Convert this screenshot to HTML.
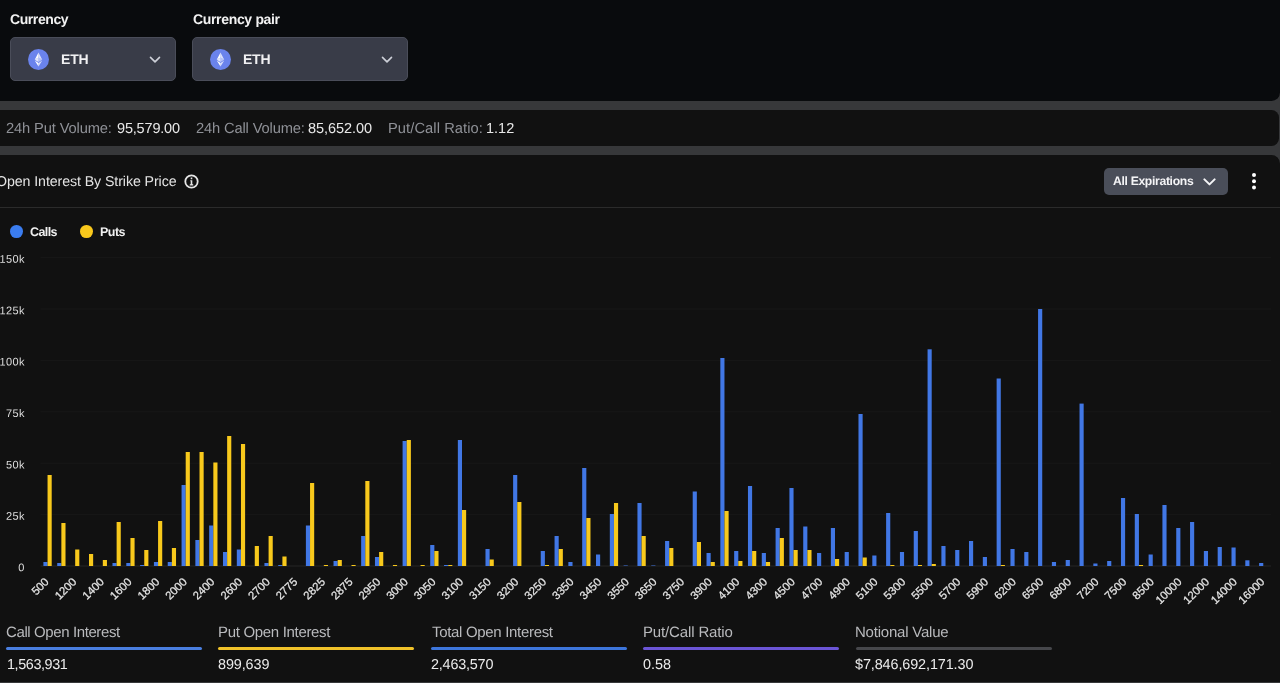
<!DOCTYPE html>
<html lang="en"><head><meta charset="utf-8"><title>Open Interest By Strike Price</title>
<style>
*{box-sizing:border-box;margin:0;padding:0}
html,body{width:1280px;height:683px;overflow:hidden;background:#37383a;font-family:"Liberation Sans",Arial,sans-serif;color:#e6e6e6}
.abs{position:absolute}
#root{position:absolute;left:0;top:0;width:1280px;height:683px;overflow:hidden;will-change:transform}
#top{position:absolute;left:0;top:0;width:1280px;height:101px;background:#090b0d;border-bottom-right-radius:8.5px}
#stats{position:absolute;left:0;top:110px;width:1279.3px;height:36.2px;background:#111111;border-radius:0 7.5px 7.5px 0}
#panel{position:absolute;left:0;top:155px;width:1280px;height:526.6px;background:#111111;border-top-right-radius:8.5px}
.tx{position:absolute;line-height:18px;white-space:nowrap;transform:rotate(0.03deg);transform-origin:0 50%}
.dd{position:absolute;top:37px;height:44px;background:#393c48;border:1px solid #4a4d59;border-radius:5px}
.dd .eth{position:absolute;left:16.9px;top:10.6px}
.dd .chev{position:absolute;right:14.1px;top:18px}
.title{position:absolute;left:-3.9px;top:172.38px;font-size:14.2px;line-height:18px;color:#e4e4e4;white-space:nowrap;letter-spacing:-0.085px;transform:rotate(0.03deg);transform-origin:0 50%}
.btnbox{position:absolute;left:1104px;top:167.7px;width:124px;height:27px;background:#4a4e59;border-radius:5px}
.dot{position:absolute;top:225.35px;width:12.8px;height:12.8px;border-radius:50%}
.chart{position:absolute;left:0;top:0}
.yl{font-size:11px;letter-spacing:.4px;fill:#dedede;font-family:"Liberation Sans",Arial,sans-serif}
.xl{font-size:11.3px;fill:#e4e4e4;stroke:#e4e4e4;stroke-width:.25px;font-family:"Liberation Sans",Arial,sans-serif}
.u{position:absolute;top:647.2px;width:196px;height:3px;border-radius:1.5px}
</style></head><body>
<div id="root">
<div id="top"></div>
<div id="stats"></div>
<div id="panel"></div>
<div id="lbl1" class="tx" style="left:9.85px;top:9.95px;font-size:14px;font-weight:700;color:#f2f2f2;letter-spacing:-0.417px">Currency</div><div id="lbl2" class="tx" style="left:192.85px;top:9.95px;font-size:14px;font-weight:700;color:#f2f2f2;letter-spacing:-0.330px">Currency pair</div>
<div class="dd" style="left:10px;width:166px"><svg class="eth" width="21" height="21" viewBox="0 0 32 32"><circle cx="16" cy="16" r="16" fill="#6a83ec"/><g fill="#fff"><path fill-opacity=".75" d="M16 5.5v7.6l5.7 3.1z"/><path d="M16 5.5 10.3 16.2l5.7-3.1z"/><path fill-opacity=".75" d="M16 21.4v5.1l5.7-8.9z"/><path d="M16 26.5v-5.1l-5.7-3.8z"/><path fill-opacity=".5" d="m16 19.9 5.7-3.7-5.7-3.1z"/><path fill-opacity=".8" d="m10.3 16.2 5.7 3.7v-6.8z"/></g></svg><svg class="chev" width="12" height="8" viewBox="0 0 12 8"><path d="M1.5 1.4 6 5.9l4.5-4.5" fill="none" stroke="#cdd0d8" stroke-width="1.6" stroke-linecap="round" stroke-linejoin="round"/></svg></div>
<div class="dd" style="left:192px;width:216px"><svg class="eth" width="21" height="21" viewBox="0 0 32 32"><circle cx="16" cy="16" r="16" fill="#6a83ec"/><g fill="#fff"><path fill-opacity=".75" d="M16 5.5v7.6l5.7 3.1z"/><path d="M16 5.5 10.3 16.2l5.7-3.1z"/><path fill-opacity=".75" d="M16 21.4v5.1l5.7-8.9z"/><path d="M16 26.5v-5.1l-5.7-3.8z"/><path fill-opacity=".5" d="m16 19.9 5.7-3.7-5.7-3.1z"/><path fill-opacity=".8" d="m10.3 16.2 5.7 3.7v-6.8z"/></g></svg><svg class="chev" width="12" height="8" viewBox="0 0 12 8"><path d="M1.5 1.4 6 5.9l4.5-4.5" fill="none" stroke="#cdd0d8" stroke-width="1.6" stroke-linecap="round" stroke-linejoin="round"/></svg></div>
<div id="eth1" class="tx" style="left:60.58px;top:50.05px;font-size:14px;font-weight:700;color:#f0f0f2;letter-spacing:-0.167px">ETH</div><div id="eth2" class="tx" style="left:243.14px;top:50.05px;font-size:14px;font-weight:700;color:#f0f0f2;letter-spacing:-0.231px">ETH</div>
<div id="sl1" class="tx" style="left:5.94px;top:119.4px;font-size:14.7px;font-weight:400;color:#8f9197;letter-spacing:-0.135px">24h Put Volume:</div><div id="sv1" class="tx" style="left:116.81px;top:119.47px;font-size:14.5px;font-weight:400;color:#e8e8e8;letter-spacing:-0.180px">95,579.00</div><div id="sl2" class="tx" style="left:195.92px;top:119.4px;font-size:14.7px;font-weight:400;color:#8f9197;letter-spacing:-0.146px">24h Call Volume:</div><div id="sv2" class="tx" style="left:308.40px;top:119.47px;font-size:14.5px;font-weight:400;color:#e8e8e8;letter-spacing:-0.068px">85,652.00</div><div id="sl3" class="tx" style="left:388.21px;top:119.4px;font-size:14.7px;font-weight:400;color:#8f9197;letter-spacing:0.074px">Put/Call Ratio:</div><div id="sv3" class="tx" style="left:486.36px;top:119.47px;font-size:14.5px;font-weight:400;color:#e8e8e8;letter-spacing:0.016px">1.12</div>
<div class="title">Open Interest By Strike Price</div>
<svg class="abs" style="left:184.2px;top:174px" width="15" height="15" viewBox="0 0 15 15"><circle cx="7.5" cy="7.5" r="6.2" fill="none" stroke="#e6e6e6" stroke-width="1.8"/><path d="M6.3 6.2h2v3.9l1 .5v.8H5.7v-.8l1-.5V7.2H6.3zM6.7 3.6h1.6v1.6H6.7z" fill="#e6e6e6"/></svg>
<div class="btnbox"></div><div id="btn" class="tx" style="left:1113.46px;top:171.77px;font-size:12.2px;font-weight:700;color:#f4f4f6;letter-spacing:-0.332px">All Expirations</div>
<svg class="abs" style="left:1203px;top:177.6px" width="13" height="8" viewBox="0 0 13 8"><path d="M1.4 1.4 6.5 6.4l5.1-5" fill="none" stroke="#f4f4f6" stroke-width="2" stroke-linecap="round" stroke-linejoin="round"/></svg>
<svg class="abs" style="left:1251px;top:172px" width="6" height="18" viewBox="0 0 6 18"><circle cx="3" cy="2.95" r="2" fill="#fff"/><circle cx="3" cy="9.2" r="2" fill="#fff"/><circle cx="3" cy="15.45" r="2" fill="#fff"/></svg>
<div class="abs" style="left:0;top:207px;width:1280px;height:1px;background:#2b2b2b"></div>
<div class="dot" style="left:10.3px;background:#3b7df0"></div><div id="lg1" class="tx" style="left:30.00px;top:223.27px;font-size:12.5px;font-weight:700;color:#f0f0f0;letter-spacing:-0.595px">Calls</div>
<div class="dot" style="left:80.35px;background:#f9c81c"></div><div id="lg2" class="tx" style="left:100.05px;top:223.27px;font-size:12.5px;font-weight:700;color:#f0f0f0;letter-spacing:-0.507px">Puts</div>
<div class="u" style="left:5.7px;background:#4a7fe0"></div><div class="u" style="left:218.2px;background:#f0c22a"></div><div class="u" style="left:430.8px;background:#3d76dc"></div><div class="u" style="left:643.3px;background:#6b55d6"></div><div class="u" style="left:855.9px;background:#46474b"></div>
<div id="h1" class="tx" style="left:6.17px;top:623.1px;font-size:15px;font-weight:400;color:#b9babd;letter-spacing:-0.395px">Call Open Interest</div><div id="h2" class="tx" style="left:217.80px;top:623.1px;font-size:15px;font-weight:400;color:#b9babd;letter-spacing:-0.319px">Put Open Interest</div><div id="h3" class="tx" style="left:431.55px;top:623.1px;font-size:15px;font-weight:400;color:#b9babd;letter-spacing:-0.318px">Total Open Interest</div><div id="h4" class="tx" style="left:642.60px;top:623.1px;font-size:15px;font-weight:400;color:#b9babd;letter-spacing:-0.141px">Put/Call Ratio</div><div id="h5" class="tx" style="left:855.38px;top:623.1px;font-size:15px;font-weight:400;color:#b9babd;letter-spacing:-0.220px">Notional Value</div>
<div id="v1" class="tx" style="left:6.81px;top:655.31px;font-size:14.4px;font-weight:400;color:#ececec;letter-spacing:-0.405px">1,563,931</div><div id="v2" class="tx" style="left:218.37px;top:655.31px;font-size:14.4px;font-weight:400;color:#ececec;letter-spacing:-0.103px">899,639</div><div id="v3" class="tx" style="left:430.72px;top:655.31px;font-size:14.4px;font-weight:400;color:#ececec;letter-spacing:-0.199px">2,463,570</div><div id="v4" class="tx" style="left:643.33px;top:655.31px;font-size:14.4px;font-weight:400;color:#ececec;letter-spacing:-0.009px">0.58</div><div id="v5" class="tx" style="left:855.25px;top:655.31px;font-size:14.4px;font-weight:400;color:#ececec;letter-spacing:-0.103px">$7,846,692,171.30</div>
<svg class="chart" width="1280" height="683" viewBox="0 0 1280 683">
<line x1="40.5" x2="1271" y1="257.6" y2="257.6" stroke="#181818" stroke-width="1"/>
<text transform="translate(24.9,262.8) rotate(0.05)" text-anchor="end" class="yl">150k</text>
<line x1="40.5" x2="1271" y1="309.0" y2="309.0" stroke="#181818" stroke-width="1"/>
<text transform="translate(24.9,314.2) rotate(0.05)" text-anchor="end" class="yl">125k</text>
<line x1="40.5" x2="1271" y1="360.4" y2="360.4" stroke="#181818" stroke-width="1"/>
<text transform="translate(24.9,365.6) rotate(0.05)" text-anchor="end" class="yl">100k</text>
<line x1="40.5" x2="1271" y1="411.8" y2="411.8" stroke="#181818" stroke-width="1"/>
<text transform="translate(24.9,417.0) rotate(0.05)" text-anchor="end" class="yl">75k</text>
<line x1="40.5" x2="1271" y1="463.2" y2="463.2" stroke="#181818" stroke-width="1"/>
<text transform="translate(24.9,468.4) rotate(0.05)" text-anchor="end" class="yl">50k</text>
<line x1="40.5" x2="1271" y1="514.6" y2="514.6" stroke="#181818" stroke-width="1"/>
<text transform="translate(24.9,519.8) rotate(0.05)" text-anchor="end" class="yl">25k</text>
<line x1="40.5" x2="1271" y1="566.0" y2="566.0" stroke="#262626" stroke-width="1"/>
<text transform="translate(24.9,571.2) rotate(0.05)" text-anchor="end" class="yl">0</text>
<rect x="43.40" y="562.0" width="4.15" height="4.0" fill="#4177e5"/>
<rect x="47.55" y="475.0" width="4.15" height="91.0" fill="#f8c91c"/>
<rect x="57.21" y="563.0" width="4.15" height="3.0" fill="#4177e5"/>
<rect x="61.36" y="523.0" width="4.15" height="43.0" fill="#f8c91c"/>
<rect x="75.18" y="549.5" width="4.15" height="16.5" fill="#f8c91c"/>
<rect x="89.00" y="554.0" width="4.15" height="12.0" fill="#f8c91c"/>
<rect x="102.81" y="560.0" width="4.15" height="6.0" fill="#f8c91c"/>
<rect x="112.47" y="563.0" width="4.15" height="3.0" fill="#4177e5"/>
<rect x="116.62" y="522.0" width="4.15" height="44.0" fill="#f8c91c"/>
<rect x="126.29" y="563.0" width="4.15" height="3.0" fill="#4177e5"/>
<rect x="130.44" y="538.0" width="4.15" height="28.0" fill="#f8c91c"/>
<rect x="140.10" y="565.0" width="4.15" height="1.0" fill="#4177e5"/>
<rect x="144.25" y="550.0" width="4.15" height="16.0" fill="#f8c91c"/>
<rect x="153.92" y="562.0" width="4.15" height="4.0" fill="#4177e5"/>
<rect x="158.07" y="521.0" width="4.15" height="45.0" fill="#f8c91c"/>
<rect x="167.73" y="562.0" width="4.15" height="4.0" fill="#4177e5"/>
<rect x="171.88" y="548.0" width="4.15" height="18.0" fill="#f8c91c"/>
<rect x="181.55" y="485.0" width="4.15" height="81.0" fill="#4177e5"/>
<rect x="185.70" y="452.0" width="4.15" height="114.0" fill="#f8c91c"/>
<rect x="195.36" y="540.0" width="4.15" height="26.0" fill="#4177e5"/>
<rect x="199.51" y="452.0" width="4.15" height="114.0" fill="#f8c91c"/>
<rect x="209.18" y="525.5" width="4.15" height="40.5" fill="#4177e5"/>
<rect x="213.33" y="462.5" width="4.15" height="103.5" fill="#f8c91c"/>
<rect x="222.99" y="552.0" width="4.15" height="14.0" fill="#4177e5"/>
<rect x="227.14" y="436.0" width="4.15" height="130.0" fill="#f8c91c"/>
<rect x="236.81" y="549.5" width="4.15" height="16.5" fill="#4177e5"/>
<rect x="240.96" y="444.0" width="4.15" height="122.0" fill="#f8c91c"/>
<rect x="254.77" y="546.0" width="4.15" height="20.0" fill="#f8c91c"/>
<rect x="264.44" y="563.0" width="4.15" height="3.0" fill="#4177e5"/>
<rect x="268.59" y="536.0" width="4.15" height="30.0" fill="#f8c91c"/>
<rect x="278.25" y="565.0" width="4.15" height="1.0" fill="#4177e5"/>
<rect x="282.40" y="556.5" width="4.15" height="9.5" fill="#f8c91c"/>
<rect x="305.89" y="525.5" width="4.15" height="40.5" fill="#4177e5"/>
<rect x="310.04" y="483.0" width="4.15" height="83.0" fill="#f8c91c"/>
<rect x="323.85" y="565.0" width="4.15" height="1.0" fill="#f8c91c"/>
<rect x="333.52" y="561.0" width="4.15" height="5.0" fill="#4177e5"/>
<rect x="337.67" y="560.0" width="4.15" height="6.0" fill="#f8c91c"/>
<rect x="351.48" y="565.0" width="4.15" height="1.0" fill="#f8c91c"/>
<rect x="361.15" y="536.0" width="4.15" height="30.0" fill="#4177e5"/>
<rect x="365.30" y="481.0" width="4.15" height="85.0" fill="#f8c91c"/>
<rect x="374.96" y="557.0" width="4.15" height="9.0" fill="#4177e5"/>
<rect x="379.11" y="552.0" width="4.15" height="14.0" fill="#f8c91c"/>
<rect x="392.93" y="565.0" width="4.15" height="1.0" fill="#f8c91c"/>
<rect x="402.59" y="441.0" width="4.15" height="125.0" fill="#4177e5"/>
<rect x="406.74" y="440.0" width="4.15" height="126.0" fill="#f8c91c"/>
<rect x="420.56" y="565.0" width="4.15" height="1.0" fill="#f8c91c"/>
<rect x="430.22" y="545.0" width="4.15" height="21.0" fill="#4177e5"/>
<rect x="434.37" y="551.0" width="4.15" height="15.0" fill="#f8c91c"/>
<rect x="444.04" y="565.0" width="4.15" height="1.0" fill="#4177e5"/>
<rect x="448.19" y="565.0" width="4.15" height="1.0" fill="#f8c91c"/>
<rect x="457.85" y="440.0" width="4.15" height="126.0" fill="#4177e5"/>
<rect x="462.00" y="510.0" width="4.15" height="56.0" fill="#f8c91c"/>
<rect x="485.48" y="549.0" width="4.15" height="17.0" fill="#4177e5"/>
<rect x="489.63" y="559.5" width="4.15" height="6.5" fill="#f8c91c"/>
<rect x="513.11" y="475.0" width="4.15" height="91.0" fill="#4177e5"/>
<rect x="517.26" y="502.0" width="4.15" height="64.0" fill="#f8c91c"/>
<rect x="540.74" y="551.0" width="4.15" height="15.0" fill="#4177e5"/>
<rect x="544.89" y="565.0" width="4.15" height="1.0" fill="#f8c91c"/>
<rect x="554.55" y="536.0" width="4.15" height="30.0" fill="#4177e5"/>
<rect x="558.70" y="549.0" width="4.15" height="17.0" fill="#f8c91c"/>
<rect x="568.37" y="562.0" width="4.15" height="4.0" fill="#4177e5"/>
<rect x="582.18" y="468.0" width="4.15" height="98.0" fill="#4177e5"/>
<rect x="586.33" y="518.0" width="4.15" height="48.0" fill="#f8c91c"/>
<rect x="596.00" y="554.5" width="4.15" height="11.5" fill="#4177e5"/>
<rect x="609.81" y="514.0" width="4.15" height="52.0" fill="#4177e5"/>
<rect x="613.96" y="503.0" width="4.15" height="63.0" fill="#f8c91c"/>
<rect x="623.63" y="565.5" width="4.15" height="0.5" fill="#4177e5"/>
<rect x="637.44" y="503.0" width="4.15" height="63.0" fill="#4177e5"/>
<rect x="641.59" y="536.0" width="4.15" height="30.0" fill="#f8c91c"/>
<rect x="651.26" y="565.5" width="4.15" height="0.5" fill="#4177e5"/>
<rect x="665.07" y="541.0" width="4.15" height="25.0" fill="#4177e5"/>
<rect x="669.22" y="548.0" width="4.15" height="18.0" fill="#f8c91c"/>
<rect x="692.70" y="491.5" width="4.15" height="74.5" fill="#4177e5"/>
<rect x="696.85" y="542.0" width="4.15" height="24.0" fill="#f8c91c"/>
<rect x="706.52" y="553.0" width="4.15" height="13.0" fill="#4177e5"/>
<rect x="710.67" y="562.0" width="4.15" height="4.0" fill="#f8c91c"/>
<rect x="720.33" y="358.0" width="4.15" height="208.0" fill="#4177e5"/>
<rect x="724.48" y="511.0" width="4.15" height="55.0" fill="#f8c91c"/>
<rect x="734.15" y="551.0" width="4.15" height="15.0" fill="#4177e5"/>
<rect x="738.30" y="561.0" width="4.15" height="5.0" fill="#f8c91c"/>
<rect x="747.96" y="486.0" width="4.15" height="80.0" fill="#4177e5"/>
<rect x="752.11" y="551.0" width="4.15" height="15.0" fill="#f8c91c"/>
<rect x="761.78" y="553.0" width="4.15" height="13.0" fill="#4177e5"/>
<rect x="765.93" y="562.0" width="4.15" height="4.0" fill="#f8c91c"/>
<rect x="775.59" y="528.0" width="4.15" height="38.0" fill="#4177e5"/>
<rect x="779.74" y="538.0" width="4.15" height="28.0" fill="#f8c91c"/>
<rect x="789.41" y="488.0" width="4.15" height="78.0" fill="#4177e5"/>
<rect x="793.56" y="550.0" width="4.15" height="16.0" fill="#f8c91c"/>
<rect x="803.22" y="526.5" width="4.15" height="39.5" fill="#4177e5"/>
<rect x="807.37" y="550.0" width="4.15" height="16.0" fill="#f8c91c"/>
<rect x="817.04" y="553.0" width="4.15" height="13.0" fill="#4177e5"/>
<rect x="830.85" y="528.0" width="4.15" height="38.0" fill="#4177e5"/>
<rect x="835.00" y="559.0" width="4.15" height="7.0" fill="#f8c91c"/>
<rect x="844.67" y="552.0" width="4.15" height="14.0" fill="#4177e5"/>
<rect x="858.48" y="414.0" width="4.15" height="152.0" fill="#4177e5"/>
<rect x="862.63" y="557.5" width="4.15" height="8.5" fill="#f8c91c"/>
<rect x="872.30" y="555.5" width="4.15" height="10.5" fill="#4177e5"/>
<rect x="886.11" y="513.0" width="4.15" height="53.0" fill="#4177e5"/>
<rect x="890.26" y="565.0" width="4.15" height="1.0" fill="#f8c91c"/>
<rect x="899.93" y="552.0" width="4.15" height="14.0" fill="#4177e5"/>
<rect x="913.74" y="531.0" width="4.15" height="35.0" fill="#4177e5"/>
<rect x="917.89" y="565.0" width="4.15" height="1.0" fill="#f8c91c"/>
<rect x="927.56" y="349.3" width="4.15" height="216.7" fill="#4177e5"/>
<rect x="931.71" y="564.0" width="4.15" height="2.0" fill="#f8c91c"/>
<rect x="941.38" y="546.0" width="4.15" height="20.0" fill="#4177e5"/>
<rect x="955.19" y="550.0" width="4.15" height="16.0" fill="#4177e5"/>
<rect x="969.00" y="541.0" width="4.15" height="25.0" fill="#4177e5"/>
<rect x="982.82" y="557.0" width="4.15" height="9.0" fill="#4177e5"/>
<rect x="996.63" y="378.5" width="4.15" height="187.5" fill="#4177e5"/>
<rect x="1000.78" y="565.0" width="4.15" height="1.0" fill="#f8c91c"/>
<rect x="1010.45" y="549.0" width="4.15" height="17.0" fill="#4177e5"/>
<rect x="1024.26" y="552.0" width="4.15" height="14.0" fill="#4177e5"/>
<rect x="1038.08" y="309.0" width="4.15" height="257.0" fill="#4177e5"/>
<rect x="1051.89" y="562.0" width="4.15" height="4.0" fill="#4177e5"/>
<rect x="1065.71" y="560.0" width="4.15" height="6.0" fill="#4177e5"/>
<rect x="1079.52" y="403.6" width="4.15" height="162.4" fill="#4177e5"/>
<rect x="1093.34" y="563.5" width="4.15" height="2.5" fill="#4177e5"/>
<rect x="1107.15" y="561.0" width="4.15" height="5.0" fill="#4177e5"/>
<rect x="1120.97" y="498.0" width="4.15" height="68.0" fill="#4177e5"/>
<rect x="1134.78" y="514.0" width="4.15" height="52.0" fill="#4177e5"/>
<rect x="1138.93" y="565.0" width="4.15" height="1.0" fill="#f8c91c"/>
<rect x="1148.60" y="554.5" width="4.15" height="11.5" fill="#4177e5"/>
<rect x="1162.41" y="505.0" width="4.15" height="61.0" fill="#4177e5"/>
<rect x="1176.23" y="528.0" width="4.15" height="38.0" fill="#4177e5"/>
<rect x="1190.04" y="522.0" width="4.15" height="44.0" fill="#4177e5"/>
<rect x="1203.86" y="551.0" width="4.15" height="15.0" fill="#4177e5"/>
<rect x="1217.67" y="547.0" width="4.15" height="19.0" fill="#4177e5"/>
<rect x="1231.49" y="547.5" width="4.15" height="18.5" fill="#4177e5"/>
<rect x="1245.30" y="560.3" width="4.15" height="5.7" fill="#4177e5"/>
<rect x="1259.12" y="563.0" width="4.15" height="3.0" fill="#4177e5"/>
<text transform="translate(49.5,582.5) rotate(-45)" text-anchor="end" class="xl">500</text>
<text transform="translate(77.2,582.5) rotate(-45)" text-anchor="end" class="xl">1200</text>
<text transform="translate(104.8,582.5) rotate(-45)" text-anchor="end" class="xl">1400</text>
<text transform="translate(132.4,582.5) rotate(-45)" text-anchor="end" class="xl">1600</text>
<text transform="translate(160.1,582.5) rotate(-45)" text-anchor="end" class="xl">1800</text>
<text transform="translate(187.7,582.5) rotate(-45)" text-anchor="end" class="xl">2000</text>
<text transform="translate(215.3,582.5) rotate(-45)" text-anchor="end" class="xl">2400</text>
<text transform="translate(243.0,582.5) rotate(-45)" text-anchor="end" class="xl">2600</text>
<text transform="translate(270.6,582.5) rotate(-45)" text-anchor="end" class="xl">2700</text>
<text transform="translate(298.2,582.5) rotate(-45)" text-anchor="end" class="xl">2775</text>
<text transform="translate(325.9,582.5) rotate(-45)" text-anchor="end" class="xl">2825</text>
<text transform="translate(353.5,582.5) rotate(-45)" text-anchor="end" class="xl">2875</text>
<text transform="translate(381.1,582.5) rotate(-45)" text-anchor="end" class="xl">2950</text>
<text transform="translate(408.7,582.5) rotate(-45)" text-anchor="end" class="xl">3000</text>
<text transform="translate(436.4,582.5) rotate(-45)" text-anchor="end" class="xl">3050</text>
<text transform="translate(464.0,582.5) rotate(-45)" text-anchor="end" class="xl">3100</text>
<text transform="translate(491.6,582.5) rotate(-45)" text-anchor="end" class="xl">3150</text>
<text transform="translate(519.3,582.5) rotate(-45)" text-anchor="end" class="xl">3200</text>
<text transform="translate(546.9,582.5) rotate(-45)" text-anchor="end" class="xl">3250</text>
<text transform="translate(574.5,582.5) rotate(-45)" text-anchor="end" class="xl">3350</text>
<text transform="translate(602.1,582.5) rotate(-45)" text-anchor="end" class="xl">3450</text>
<text transform="translate(629.8,582.5) rotate(-45)" text-anchor="end" class="xl">3550</text>
<text transform="translate(657.4,582.5) rotate(-45)" text-anchor="end" class="xl">3650</text>
<text transform="translate(685.0,582.5) rotate(-45)" text-anchor="end" class="xl">3750</text>
<text transform="translate(712.7,582.5) rotate(-45)" text-anchor="end" class="xl">3900</text>
<text transform="translate(740.3,582.5) rotate(-45)" text-anchor="end" class="xl">4100</text>
<text transform="translate(767.9,582.5) rotate(-45)" text-anchor="end" class="xl">4300</text>
<text transform="translate(795.6,582.5) rotate(-45)" text-anchor="end" class="xl">4500</text>
<text transform="translate(823.2,582.5) rotate(-45)" text-anchor="end" class="xl">4700</text>
<text transform="translate(850.8,582.5) rotate(-45)" text-anchor="end" class="xl">4900</text>
<text transform="translate(878.4,582.5) rotate(-45)" text-anchor="end" class="xl">5100</text>
<text transform="translate(906.1,582.5) rotate(-45)" text-anchor="end" class="xl">5300</text>
<text transform="translate(933.7,582.5) rotate(-45)" text-anchor="end" class="xl">5500</text>
<text transform="translate(961.3,582.5) rotate(-45)" text-anchor="end" class="xl">5700</text>
<text transform="translate(989.0,582.5) rotate(-45)" text-anchor="end" class="xl">5900</text>
<text transform="translate(1016.6,582.5) rotate(-45)" text-anchor="end" class="xl">6200</text>
<text transform="translate(1044.2,582.5) rotate(-45)" text-anchor="end" class="xl">6500</text>
<text transform="translate(1071.9,582.5) rotate(-45)" text-anchor="end" class="xl">6800</text>
<text transform="translate(1099.5,582.5) rotate(-45)" text-anchor="end" class="xl">7200</text>
<text transform="translate(1127.1,582.5) rotate(-45)" text-anchor="end" class="xl">7500</text>
<text transform="translate(1154.8,582.5) rotate(-45)" text-anchor="end" class="xl">8500</text>
<text transform="translate(1182.4,582.5) rotate(-45)" text-anchor="end" class="xl">10000</text>
<text transform="translate(1210.0,582.5) rotate(-45)" text-anchor="end" class="xl">12000</text>
<text transform="translate(1237.6,582.5) rotate(-45)" text-anchor="end" class="xl">14000</text>
<text transform="translate(1265.3,582.5) rotate(-45)" text-anchor="end" class="xl">16000</text>
</svg>
</div>
</body></html>
